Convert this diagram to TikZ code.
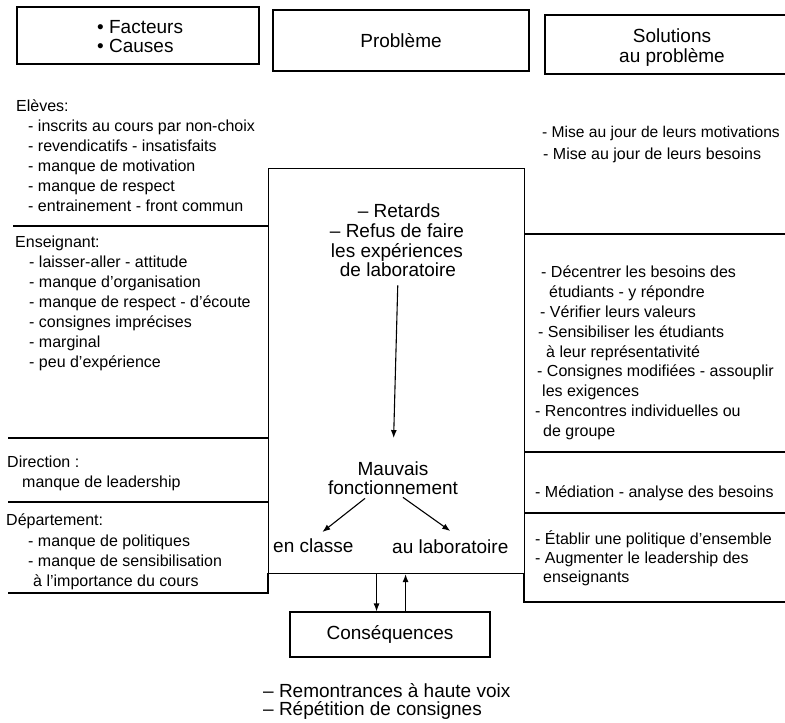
\documentclass[tikz,border=0pt]{standalone}
\usepackage{fontspec}
\setmainfont{Liberation Sans}
\usetikzlibrary{arrows.meta,calc}
\begin{document}
\begin{tikzpicture}[x=1pt,y=-1pt,
  sm/.style={font=\fontsize{16}{20}\selectfont, inner sep=0pt, anchor=base west},
  lg/.style={font=\fontsize{19}{22}\selectfont, inner sep=0pt, anchor=base},
  lgw/.style={lg, anchor=base west},
  rule/.style={line width=1.1pt},
  boxn/.style={draw, rule, inner sep=0pt},
  arr/.style={line width=1.1pt, -{Latex[length=8pt,width=6pt]}}]
\useasboundingbox (0,0) rectangle (785,723);

% top header boxes
\node[boxn, minimum width=242pt, minimum height=57pt] (fcbox) at (138,35.5) {};
\node[boxn, minimum width=256pt, minimum height=61pt] (pbbox) at (401,40.5) {};
% the third box runs off the right edge of the picture
\draw[rule] (785,15) -- (545,15) -- (545,74) -- (785,74);
\node[lgw] (f1) at (97,33) {• Facteurs};
\node[lgw] (f2) at (97,52) {• Causes};
\node[lg] (pb) at (401,47) {Problème};
\node[lg] (s1) at (672,42) {Solutions};
\node[lg] (s2) at (672,62) {au problème};

% central box
\node[boxn, minimum width=256pt, minimum height=405pt, anchor=north west] (cbox) at (268,168) {};

% left column rules
\draw[rule] (13,226) -- (268,226);
\draw[rule] (8,438) -- (268,438);
\draw[rule] (8,502) -- (268,502);
\draw[rule] (8,593) -- (268,593) -- (268,573);

% right column rules
\draw[rule] (524,234) -- (785,234);
\draw[rule] (524,452) -- (785,452);
\draw[rule] (524,513) -- (785,513);
\draw[rule] (524,573) -- (524,602) -- (785,602);

% left column texts
\node[sm] (el0) at (16,111) {Elèves:};
\foreach \t [count=\i] in {{- inscrits au cours par non-choix},{- revendicatifs - insatisfaits},{- manque de motivation},{- manque de respect},{- entrainement - front commun}}
  \node[sm] (el\i) at (28,111+20*\i) {\t};
\node[sm] (en0) at (15,247) {Enseignant:};
\foreach \t [count=\i] in {{- laisser-aller - attitude},{- manque d'organisation},{- manque de respect - d'écoute},{- consignes imprécises},{- marginal},{- peu d'expérience}}
  \node[sm] (en\i) at (29,247+20*\i) {\t};
\node[sm] (di0) at (7,467) {Direction :};
\node[sm] (di1) at (22,487) {manque de leadership};
\node[sm] (de0) at (6,525) {Département:};
\node[sm] (de1) at (28,546) {- manque de politiques};
\node[sm] (de2) at (28,566) {- manque de sensibilisation};
\node[sm] (de3) at (33,586) {à l'importance du cours};

% centre texts
\node[lg] (c1) at (399,217) {– Retards};
\node[lg] (c2) at (397,237) {– Refus de faire};
\node[lg] (c3) at (397,257) {les expériences};
\node[lg] (c4) at (398,276) {de laboratoire};
\node[lg] (mv1) at (393,475) {Mauvais};
\node[lg] (mv2) at (393,494) {fonctionnement};
\node[lgw] (ec) at (273,552) {en classe};
\node[lgw] (al) at (392,553) {au laboratoire};

\draw[arr, shorten <=9pt, shorten >=23pt] (c4.south) -- (mv1.north);
\draw[arr] ($(mv2.south)+(-28,4)$) -- ($(ec.north)+(9,-6)$);
\draw[arr] ($(mv2.south)+(10,3)$) -- ($(al.north)+(0,-8)$);

% right column texts
\node[sm, font=\fontsize{15.6}{20}\selectfont] (r1) at (542,137) {- Mise au jour de leurs motivations};
\node[sm] (r2) at (543,159) {- Mise au jour de leurs besoins};
\node[sm] (k0) at (541,277) {- Décentrer les besoins des};
\node[sm] (k1) at (549,297) {étudiants - y répondre};
\node[sm] (k2) at (540,317) {- Vérifier leurs valeurs};
\node[sm] (k3) at (538,337) {- Sensibiliser les étudiants};
\node[sm] (k4) at (546,357) {à leur représentativité};
\node[sm] (k5) at (537,376) {- Consignes modifiées - assouplir};
\node[sm] (k6) at (542,396) {les exigences};
\node[sm] (k7) at (535,416) {- Rencontres individuelles ou};
\node[sm] (k8) at (543,436) {de groupe};
\node[sm] (rm) at (535,497) {- Médiation - analyse des besoins};
\node[sm] (re1) at (535,544) {- Établir une politique d'ensemble};
\node[sm] (re2) at (535,563) {- Augmenter le leadership des};
\node[sm] (re3) at (543,582) {enseignants};

% consequences
\node[boxn, minimum width=200pt, minimum height=45pt, font=\fontsize{19}{22}\selectfont] (cons) at (390,634.5) {Conséquences};
\coordinate (dtop) at ([xshift=-20pt]cbox.south);
\coordinate (utop) at ([xshift=9pt]cbox.south);
\draw[arr] (dtop) -- (dtop |- cons.north);
\draw[arr] (utop |- cons.north) -- (utop);

\node[lgw] (b1) at (263,697) {– Remontrances à haute voix};
\node[lgw] (b2) at (263,715) {– Répétition de consignes};
\end{tikzpicture}
\end{document}
